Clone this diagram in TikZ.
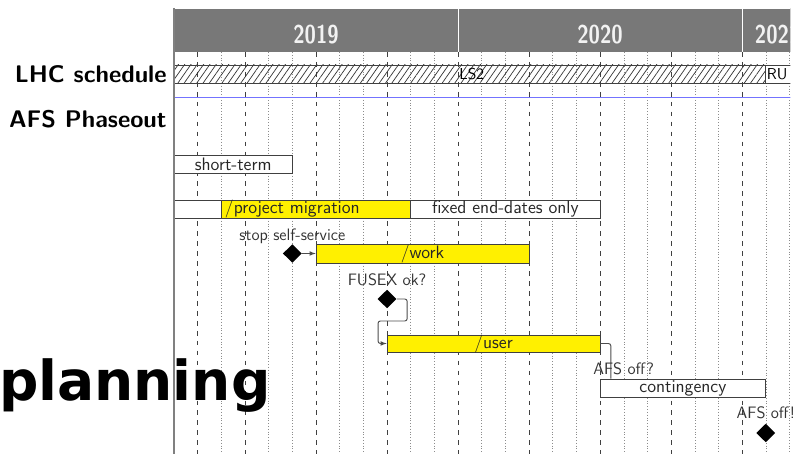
\documentclass[tikz,border=0pt]{standalone}
\usepackage{fontspec}
\newfontfamily\titlefont{DejaVu Sans}
\usetikzlibrary{fit,shapes.geometric,patterns.meta}
\definecolor{headgray}{HTML}{787878}
\definecolor{busyyellow}{HTML}{FFF000}
\begin{document}
\begin{tikzpicture}
  [x=0.7101cm,y=-0.03cm,
   bar/.style={draw=black!75,semithick,fill=white,inner sep=0pt},
   busy/.style={bar,fill=busyyellow},
   barlabel/.style={inner sep=0pt,text=black!85,font=\sffamily\fontsize{15.4}{16}\selectfont},
   yearcell/.style={fill=headgray,draw=white,thick,inner sep=0pt},
   yearlabel/.style={inner sep=0pt,text=black!5,font=\sffamily\bfseries\fontsize{22}{24}\selectfont},
   ms/.style={diamond,fill=black,inner sep=0pt,minimum width=0.57cm,minimum height=0.56cm},
   mslabel/.style={inner sep=0pt,text=black!80,font=\sffamily\fontsize{14.1}{15}\selectfont},
   link/.style={draw=black!70,thick,rounded corners=2pt,-latex},
   rowlabel/.style={anchor=east,inner sep=0pt,font=\sffamily\bfseries\fontsize{20.5}{22}\selectfont}]
  \useasboundingbox (-7.351,0) rectangle (26.869,454);

  \begin{scope}
  \clip (0,0) rectangle (26.04,454);
  % header
  \node[yearcell, fit={(0,8) (12,52)}] (y2019) {};
  \node[yearcell, fit={(12,8) (24,52)}] (y2020) {};
  \node[yearcell, fit={(24,8) (27,52)}] (y2021) {};
  \node[yearlabel] (t2019) at (6,35) {\scalebox{0.8}[1]{2019}};
  \node[yearlabel] (t2020) at (18,35) {\scalebox{0.8}[1]{2020}};
  \node[yearlabel] (t2021) at (25.5,35) {\scalebox{0.8}[1]{2021}};

  % months and quarters
  \foreach \m in {2,4,5,7,8,10,11,13,14,16,17,19,20,22,23,25,26}
  \draw[dotted,black!45] (\m,52) -- (\m,454);
  \foreach \m in {1,3,6,9,12,15,18,21,24}
  \draw[black!75,dash pattern=on 4pt off 4.5pt] (\m,52) -- (\m,454);

  % LHC schedule
  \node[draw=black!75,semithick,inner sep=0pt,
    pattern={Lines[angle=55,distance=4.4pt,line width=0.6pt]},pattern color=black!80,
    fit={(0,65) (25,83)}] (ls) {};
  \node[anchor=west,inner sep=1pt,font=\sffamily\fontsize{13.5}{14}\selectfont] (lstwo) at (12,74) {LS2};
  \node[bar, fit={(25,65) (28,83)}] (run) {};
  \node[anchor=west,inner sep=1pt,font=\sffamily\fontsize{13.5}{14}\selectfont] (runlbl) at (run.west) {RU};
  \draw[blue!55,line width=1.7pt] (0,97.5) -- (27,97.5);

  % AFS phaseout
  \node[bar, fit={(0,155) (5,173)}] (short) {};
  \node[barlabel] (shortlbl) at (short.center) {short-term};

  \node[bar, fit={(0,200) (18,218)}] (project) {};
  \node[busy, fit={(2,200) (10,218)}] (projmig) {};
  \node[barlabel] (projlbl) at (5,209) {/project migration};
  \node[barlabel] (fixed) at (14,209) {fixed end-dates only};

  \node[ms] (stopss) at (5,253.5) {};
  \node[mslabel] (stopsslbl) at (5,236) {stop self-service};
  \node[busy, fit={(6,244) (15,263)}] (work) {};
  \node[barlabel] (worklbl) at (work.center) {/work};
  \draw[link] (stopss) -- (work);

  \node[ms] (fusex) at (9,299) {};
  \node[mslabel] (fusexlbl) at (9,280) {FUSEX ok?};
  \node[busy, fit={(9,335) (18,352)}] (user) {};
  \node[barlabel] (userlbl) at (user.center) {/user};
  \draw[link] (fusex.east) -- ++(0.44,0) |- (8.62,321) |- (user.west);

  \node[bar, fit={(18,379) (25,397)}] (contingency) {};
  \node[barlabel] (contlbl) at (contingency.center) {contingency};
  \draw[draw=black!70,thick,rounded corners=2pt] (user.east) -- ++(0.44,0) coordinate (uturn) -- (uturn |- contingency.north);

  \node[ms] (afsoff) at (25,433) {};
  \end{scope}

  \node[mslabel] (afsofflbl) at (19,369) {AFS off?};
  \node[mslabel] (afsoffbang) at (25,413) {AFS off!};

  \draw[black!50,line width=1.2pt] (0,8) -- (0,454);

  \node[rowlabel] (lhc) at (-0.3,74) {LHC schedule};
  \node[rowlabel] (afs) at (-0.3,119) {AFS Phaseout};

  \node[anchor=base west,inner sep=0pt,font=\titlefont\bfseries\fontsize{47}{50}\selectfont] (title) at (-7.40,401) {planning};
\end{tikzpicture}
\end{document}
